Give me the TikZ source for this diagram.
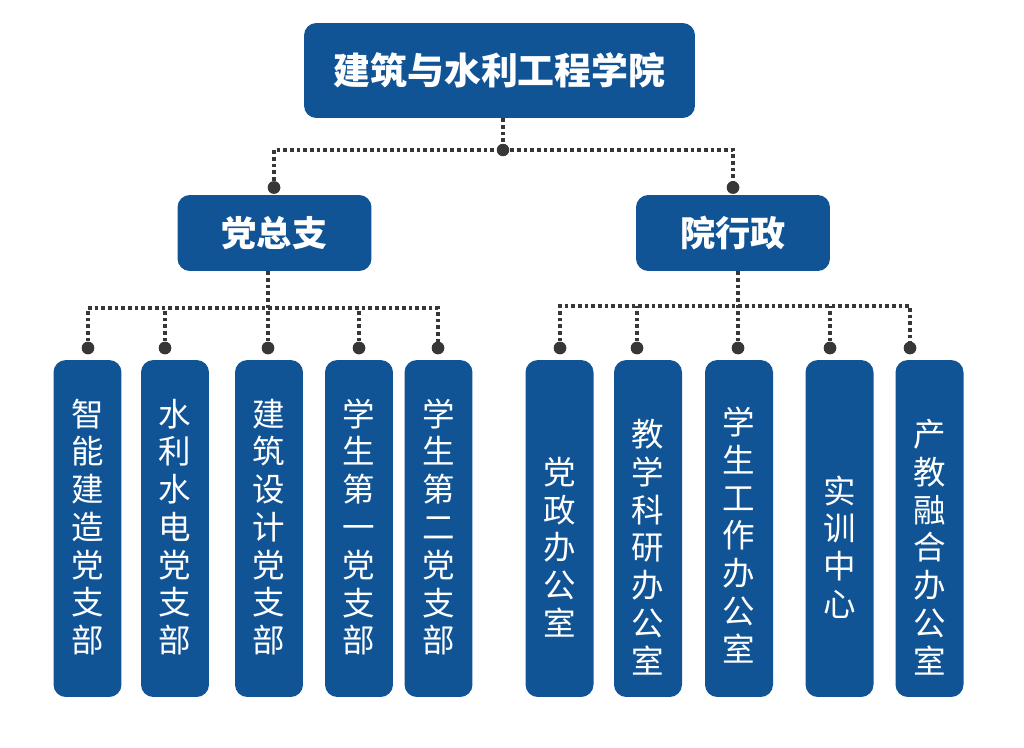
\documentclass[tikz,border=0pt]{standalone}
\usepackage{fontspec}
\setmainfont{Noto Sans CJK SC}
\usepackage{tikz}

\definecolor{unitblue}{RGB}{16,84,150}
\definecolor{linkgray}{RGB}{55,55,55}

\tikzset{
	box/.style={fill=unitblue,rounded corners=7pt,text=white,inner sep=0pt},
	college/.style={box,minimum width=7.82cm,minimum height=1.9cm,font=\bfseries\fontsize{21}{25}\selectfont},
	branch/.style={box,minimum width=3.88cm,minimum height=1.52cm,font=\bfseries\fontsize{20}{24}\selectfont},
	leaf/.style={box,minimum width=1.36cm,minimum height=6.74cm},
	leaftext/.style={text=white,align=center,inner sep=0pt,font=\fontsize{18.5}{21.5}\selectfont},
	link/.style={draw=linkgray,line width=2.1pt,dash pattern=on 2.1pt off 1.7pt},
	knot/.style={circle,fill=linkgray,inner sep=0pt,minimum size=0.25cm}
}

\begin{document}
\begin{tikzpicture}[x=0.02cm,y=-0.02cm]
	\useasboundingbox (0,0) rectangle (1024,747);

	% top level
	\node[college] (college) at (499.5,70.5) {建筑与水利工程学院};
	\node[branch] (party) at (274.5,233) {党总支};
	\node[branch] (admin) at (733,233) {院行政};

	% lower boxes
	\node[leaf] (b1) at (87.5,528.5) {};
	\node[leaf] (b2) at (175,528.5) {};
	\node[leaf] (b3) at (269,528.5) {};
	\node[leaf] (b4) at (359,528.5) {};
	\node[leaf] (b5) at (438.5,528.5) {};
	\node[leaf] (o1) at (559.5,528.5) {};
	\node[leaf] (o2) at (648,528.5) {};
	\node[leaf] (o3) at (739,528.5) {};
	\node[leaf] (o4) at (839.5,528.5) {};
	\node[leaf] (o5) at (929.5,528.5) {};

	\node[leaftext] (tb1) at (b1 |- 0,527) {智\\能\\建\\造\\党\\支\\部};
	\node[leaftext] (tb2) at (b2 |- 0,527) {水\\利\\水\\电\\党\\支\\部};
	\node[leaftext] (tb3) at (b3 |- 0,527) {建\\筑\\设\\计\\党\\支\\部};
	\node[leaftext] (tb4) at (b4 |- 0,527) {学\\生\\第\\一\\党\\支\\部};
	\node[leaftext] (tb5) at (b5 |- 0,527) {学\\生\\第\\二\\党\\支\\部};
	\node[leaftext] (to1) at (o1 |- 0,547) {党\\政\\办\\公\\室};
	\node[leaftext] (to2) at (o2 |- 0,547) {教\\学\\科\\研\\办\\公\\室};
	\node[leaftext] (to3) at (o3 |- 0,535) {学\\生\\工\\作\\办\\公\\室};
	\node[leaftext] (to4) at (o4 |- 0,547) {实\\训\\中\\心};
	\node[leaftext] (to5) at (o5 |- 0,547) {产\\教\\融\\合\\办\\公\\室};

	% junctions and bus ends
	\coordinate (j0) at (503,150);
	\coordinate (jp) at (274,150);
	\coordinate (ja) at (733,150);
	\coordinate (bp) at (268,308);
	\coordinate (ba) at (738,306);
	\coordinate (bpl) at (88,308);
	\coordinate (bpr) at (438,308);
	\coordinate (bal) at (560,306);
	\coordinate (bar) at (910,306);

	\node[knot] (kp) at (274,187.5) {};
	\node[knot] (ka) at (733,187.5) {};
	\node[knot] (k1) at (88,348) {};
	\node[knot] (k2) at (165,348) {};
	\node[knot] (k3) at (268,348) {};
	\node[knot] (k4) at (359,348) {};
	\node[knot] (k5) at (438,348) {};
	\node[knot] (k6) at (560,348) {};
	\node[knot] (k7) at (637,348) {};
	\node[knot] (k8) at (738,348) {};
	\node[knot] (k9) at (830,348) {};
	\node[knot] (k10) at (910,348) {};

	% connectors
	\draw[link] (college.south -| j0) -- (j0);
	\draw[link] (kp.center) -- (jp) -- (ja) -- (ka.center);
	\draw[link] (party.south -| bp) -- (bp);
	\draw[link] (admin.south -| ba) -- (ba);
	\draw[link] (k1.center) -- (bpl) -- (bpr) -- (k5.center);
	\draw[link] (k6.center) -- (bal) -- (bar) -- (k10.center);
	\draw[link] (k2.center) -- (k2 |- bp);
	\draw[link] (k3.center) -- (bp);
	\draw[link] (k4.center) -- (k4 |- bp);
	\draw[link] (k7.center) -- (k7 |- ba);
	\draw[link] (k8.center) -- (ba);
	\draw[link] (k9.center) -- (k9 |- ba);

	% dots over the lines
	\foreach \k in {kp,ka,k1,k2,k3,k4,k5,k6,k7,k8,k9,k10}
		\fill[linkgray] (\k) circle (0.125cm);
	\fill[linkgray] (j0) circle (0.125cm);
\end{tikzpicture}
\end{document}
